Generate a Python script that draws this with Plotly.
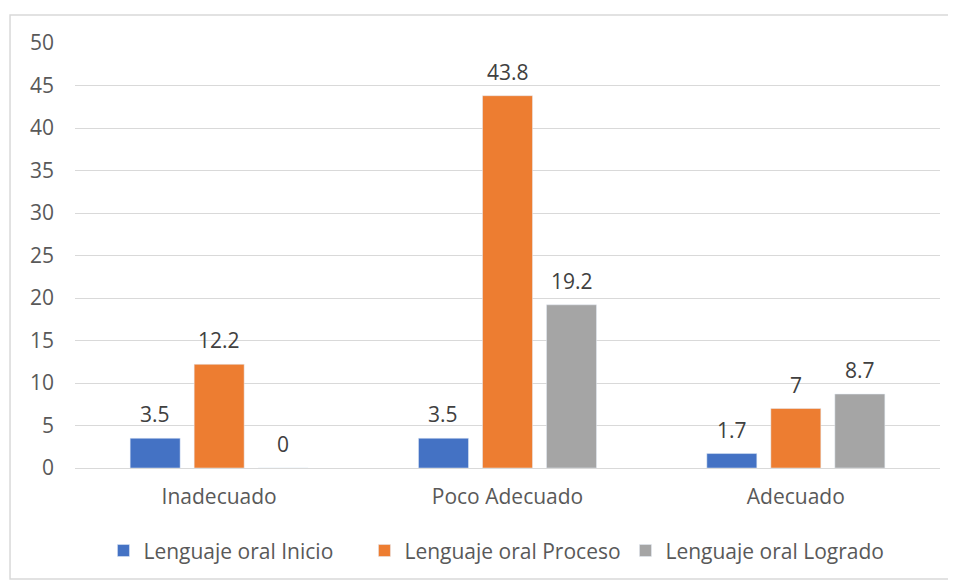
import plotly.graph_objects as go

categories = ["Inadecuado", "Poco Adecuado", "Adecuado"]
series_names = ["Lenguaje oral Inicio", "Lenguaje oral Proceso", "Lenguaje oral Logrado"]
inicio = [3.5, 3.5, 1.7]
proceso = [12.2, 43.8, 7]
logrado = [0, 19.2, 8.7]
colors = ["#4472C4", "#ED7D31", "#A5A5A5"]
y_ticks = [0, 5, 10, 15, 20, 25, 30, 35, 40, 45, 50]

FONT = "Open Sans"
FS = 21
W, H = 956, 581
ML, MR, MT, MB = 67, 24, 35, 121
BARGAP, GROUPGAP = 0.334, 0.219

fig = go.Figure()
all_series = [inicio, proceso, logrado]
for name, vals, col in zip(series_names, all_series, colors):
    fig.add_trace(go.Bar(x=categories, y=vals, name=name, marker_color=col))

# data labels, placed above each bar via the axes
plot_w = W - ML - MR
slot = plot_w / len(categories) * (1 - BARGAP) / len(all_series)
annotations = []
for i, vals in enumerate(all_series):
    for c, v in zip(categories, vals):
        annotations.append(dict(
            x=c, y=v, xref="x", yref="y", text=str(v), showarrow=False,
            xshift=(i - 1) * slot, yshift=24, yanchor="middle",
            font=dict(family=FONT, size=FS, color="#404040")))

fig.update_layout(
    width=W, height=H,
    margin=dict(l=ML, r=MR, t=MT, b=MB, autoexpand=False),
    paper_bgcolor="white", plot_bgcolor="white",
    barmode="group", bargap=BARGAP, bargroupgap=GROUPGAP,
    font=dict(family=FONT, size=FS, color="#595959"),
    showlegend=True,
    legend=dict(orientation="h", x=0.4855, xanchor="center", y=-0.195, yanchor="middle",
                bgcolor="rgba(0,0,0,0)",
                font=dict(family=FONT, size=FS, color="#595959"),
                traceorder="normal", itemwidth=30, entrywidth=216, entrywidthmode="pixels"),
    xaxis=dict(showgrid=False, showline=True, linecolor="#d9d9d9", linewidth=1,
               ticks="", automargin=False, ticklabelstandoff=10),
    yaxis=dict(range=[0, 50], tickvals=y_ticks, showgrid=True, gridcolor="#d9d9d9",
               gridwidth=1, zeroline=False, ticks="", showline=False,
               automargin=False, ticklabelstandoff=20),
    annotations=annotations,
    shapes=[dict(type="rect", xref="paper", yref="paper",
                 x0=-0.0751, x1=1.0116, y0=-0.261, y1=1.0659,
                 line=dict(color="#d9d9d9", width=1.5), fillcolor="rgba(0,0,0,0)", layer="below")],
)
fig.write_html("out.html")
